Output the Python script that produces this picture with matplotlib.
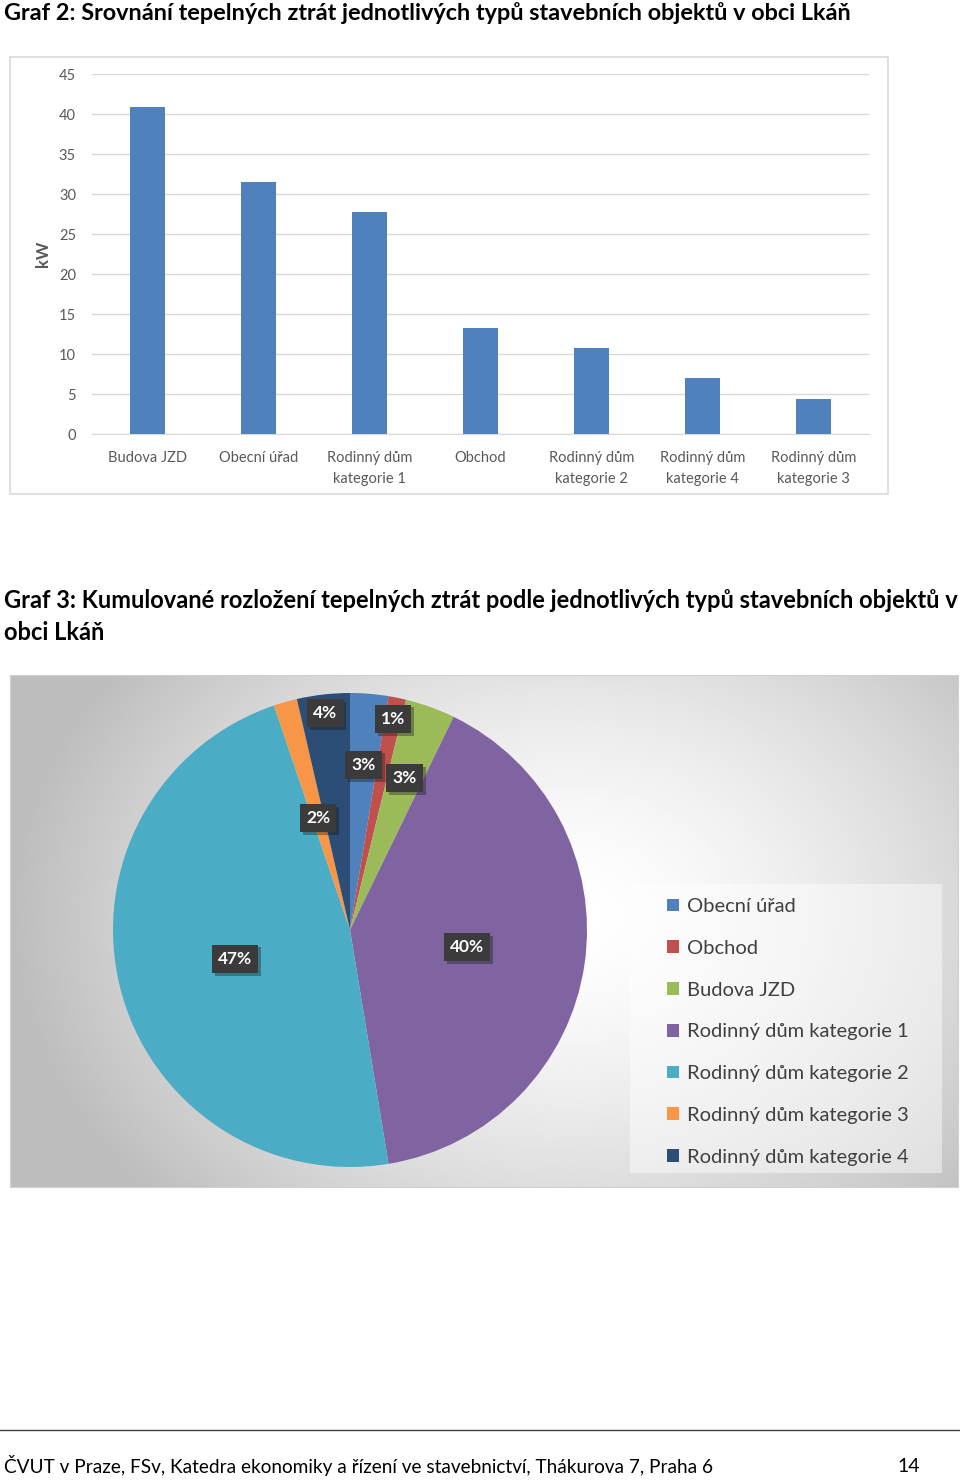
""" Graf 2 a Graf 3 - tepelne ztraty objektu v obci Lkan """

import numpy as np
import matplotlib
matplotlib.use("Agg")
import matplotlib.pyplot as plt
from matplotlib.patches import Rectangle
import matplotlib.patheffects as pe

plt.rcParams['font.family'] = ['Lato', 'DejaVu Sans']

W, H = 960, 1480

# data - graf 2 (sloupcovy)
bar_labels = ["Budova JZD", "Obecní úřad", "Rodinný dům\nkategorie 1", "Obchod",
              "Rodinný dům\nkategorie 2", "Rodinný dům\nkategorie 4", "Rodinný dům\nkategorie 3"]
bar_values = [40.9, 31.5, 27.7, 13.2, 10.8, 7.0, 4.4]
y_ticks    = [0, 5, 10, 15, 20, 25, 30, 35, 40, 45]

# data - graf 3 (kolacovy), procenta
pie_labels = ["Obecní úřad", "Obchod", "Budova JZD", "Rodinný dům kategorie 1",
              "Rodinný dům kategorie 2", "Rodinný dům kategorie 3", "Rodinný dům kategorie 4"]
pie_values = [2.6, 1.2, 3.4, 40.2, 47.4, 1.6, 3.6]
pie_colors = ["#4F81BD", "#C0504D", "#9BBB59", "#8064A2", "#4BACC6", "#F79646", "#2C4D75"]
label_dist = [0.70, 0.91, 0.68, 0.50, 0.50, 0.49, 0.92]

BAR_COLOR  = "#4F81BD"
GRID_COLOR = "#d9d9d9"
TEXT_GRAY  = "#595959"


def px(x0, y0, x1, y1):
    """ pixel box -> figure fraction rect """
    return [x0 / W, 1 - y1 / H, (x1 - x0) / W, (y1 - y0) / H]


fig = plt.figure(figsize=(W / 100, H / 100), dpi=100)
fig.patch.set_facecolor("white")

# titles
fig.text(4 / W, 1 - 13 / H,
         "Graf 2: Srovnání tepelných ztrát jednotlivých typů stavebních objektů v obci Lkáň",
         fontsize=16.9, fontweight="bold", va="center", ha="left")
fig.text(4 / W, 1 - 601 / H,
         "Graf 3: Kumulované rozložení tepelných ztrát podle jednotlivých typů stavebních objektů v",
         fontsize=17, fontweight="bold", va="center", ha="left")
fig.text(4 / W, 1 - 632 / H, "obci Lkáň",
         fontsize=17, fontweight="bold", va="center", ha="left")

# ---- bar chart ----
fig.patches.append(Rectangle((10 / W, 1 - 494 / H), 878 / W, 437 / H,
                             transform=fig.transFigure, fill=False,
                             edgecolor=GRID_COLOR, linewidth=1.2))
ax = fig.add_axes(px(92, 74, 869, 434))
x = np.arange(len(bar_values))
ax.bar(x, bar_values, width=0.31, color=BAR_COLOR, zorder=3)
ax.set_xlim(-0.5, len(bar_values) - 0.5)
ax.set_ylim(0, 45)
ax.set_yticks(y_ticks)
ax.set_xticks(x)
ax.set_xticklabels(bar_labels, linespacing=1.7)
ax.grid(axis="y", color=GRID_COLOR, linewidth=1, zorder=0)
for s in ["top", "right", "left"]:
    ax.spines[s].set_visible(False)
ax.spines["bottom"].set_color(GRID_COLOR)
ax.tick_params(axis="y", length=0, pad=11.5, labelsize=10.5, labelcolor=TEXT_GRAY)
ax.tick_params(axis="x", length=0, pad=12, labelsize=10.5, labelcolor=TEXT_GRAY)
ax.set_ylabel("kW", fontsize=12, fontweight="bold", color=TEXT_GRAY)
ax.yaxis.set_label_coords(-0.053, 0.5)

# ---- pie chart background (radial gradient) ----
bg = fig.add_axes(px(10, 675, 958, 1187))
gx, gy = np.meshgrid(np.linspace(0, 948, 400), np.linspace(0, 512, 220))
d = np.sqrt(((gx - 560) / 560) ** 2 + ((gy - 240) / 430) ** 2)
shade = 1.0 - 0.26 * np.clip(d, 0, 1) ** 1.5
bg.imshow(shade, cmap="gray", vmin=0, vmax=1, aspect="auto",
          extent=[0, 948, 512, 0], interpolation="bilinear")
bg.set_xticks([])
bg.set_yticks([])
for s in bg.spines.values():
    s.set_color("#d0d0d0")
bg.add_patch(Rectangle((620, 209), 312, 289, facecolor="white", alpha=0.45,
                       edgecolor="none"))

# ---- pie ----
axp = fig.add_axes(px(113, 693, 587, 1167))
axp.patch.set_visible(False)
wedges, _ = axp.pie(pie_values, colors=pie_colors, startangle=90,
                    counterclock=False, radius=1,
                    wedgeprops=dict(linewidth=0))
axp.set_xlim(-1, 1)
axp.set_ylim(-1, 1)
axp.set_aspect("equal")
axp.axis("off")

total = sum(pie_values)
for w, v, r in zip(wedges, pie_values, label_dist):
    ang = np.deg2rad((w.theta1 + w.theta2) / 2)
    axp.text(r * np.cos(ang), r * np.sin(ang), "%.0f%%" % (100 * v / total),
             ha="center", va="center", fontsize=12.5, fontweight="bold", color="white",
             bbox=dict(boxstyle="square,pad=0.35", facecolor="#3b3b3b", edgecolor="none",
                       path_effects=[pe.withSimplePatchShadow(offset=(2, -2), alpha=0.35)]))

fig.legend(wedges, pie_labels, loc="upper left",
           bbox_to_anchor=(667 / W, 1 - 898 / H), frameon=False,
           fontsize=14.5, labelcolor="#404040", handlelength=0.6, handleheight=0.6,
           handletextpad=0.4, labelspacing=1.23, borderaxespad=0, borderpad=0)

# ---- footer ----
fig.lines.append(plt.Line2D([0, 1], [1 - 1430 / H] * 2, transform=fig.transFigure,
                            color="#404040", linewidth=1))
fig.text(4 / W, 1 - 1466 / H,
         "ČVUT v Praze, FSv, Katedra ekonomiky a řízení ve stavebnictví, Thákurova 7, Praha 6",
         fontsize=13.7, va="center", ha="left")
fig.text(920 / W, 1 - 1466 / H, "14", fontsize=14, va="center", ha="right")

fig.savefig("out.png", dpi=100)
